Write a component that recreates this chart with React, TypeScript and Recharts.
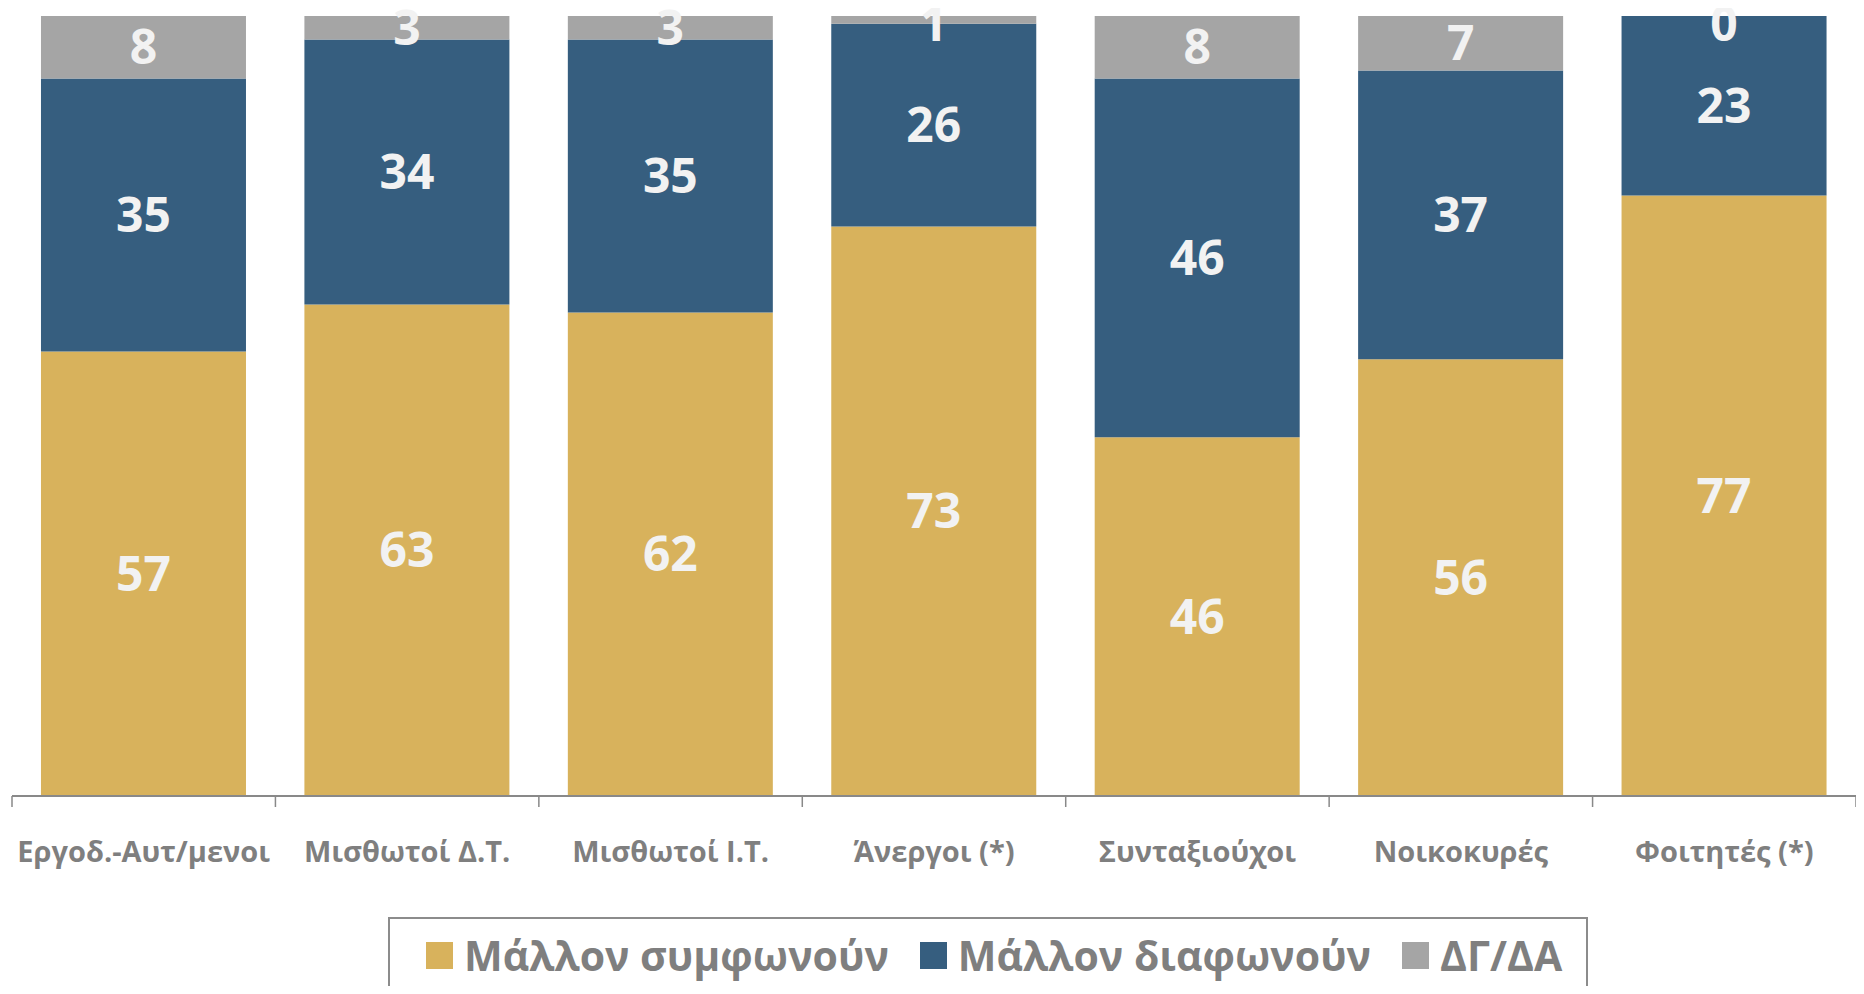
import { BarChart, Bar, XAxis, YAxis, Legend, LabelList } from "recharts";

const categories = [
  "Εργοδ.-Αυτ/μενοι",
  "Μισθωτοί Δ.Τ.",
  "Μισθωτοί Ι.Τ.",
  "Άνεργοι (*)",
  "Συνταξιούχοι",
  "Νοικοκυρές",
  "Φοιτητές (*)",
];
const agree = [57, 63, 62, 73, 46, 56, 77];
const disagree = [35, 34, 35, 26, 46, 37, 23];
const dkna = [8, 3, 3, 1, 8, 7, 0];

const seriesNames = ["Μάλλον συμφωνούν", "Μάλλον διαφωνούν", "ΔΓ/ΔΑ"];
const colors = ["#D8B25C", "#365E7F", "#A5A5A5"];

const data = categories.map((c, i) => ({
  name: c,
  agree: agree[i],
  disagree: disagree[i],
  dkna: dkna[i],
}));

const W = 1848;
const H = 978;
const margin = { top: 8, right: 0, bottom: 0, left: 4 };
const band = (W - margin.left - margin.right) / categories.length;
const font = "'Open Sans', 'DejaVu Sans', sans-serif";

function CatTick(props: any) {
  const { x, y, payload, index } = props;
  const last = index === categories.length - 1;
  return (
    <g>
      <line x1={x - band / 2} x2={x - band / 2} y1={y} y2={y + 11} stroke="#898989" strokeWidth={1.5} />
      {last && (
        <line x1={x + band / 2} x2={x + band / 2} y1={y} y2={y + 11} stroke="#898989" strokeWidth={1.5} />
      )}
      <text x={x} y={y + 66} textAnchor="middle" fill="#7F7F7F" fontSize={29} fontWeight={700} fontFamily={font}>
        {payload.value}
      </text>
    </g>
  );
}

// value label centred in its segment, but kept inside the plot at the top
function SegLabel(props: any) {
  const { viewBox, value } = props;
  if (!viewBox || value == null) return null;
  const cx = viewBox.x + viewBox.width / 2;
  const cy = Math.max(viewBox.y + viewBox.height / 2, 16);
  return (
    <text x={cx} y={cy} dy="0.355em" textAnchor="middle" fill="#F2F2F2" fontSize={48} fontWeight={700} fontFamily={font}>
      {value}
    </text>
  );
}

function LegendBox() {
  return (
    <div
      style={{
        boxSizing: "border-box",
        width: 1200,
        height: 76,
        border: "2px solid #8C8C8C",
        display: "flex",
        alignItems: "center",
        paddingLeft: 36,
        fontFamily: font,
        fontWeight: 700,
        fontSize: 41,
        color: "#7F7F7F",
        background: "#fff",
        overflow: "hidden",
      }}
    >
      {seriesNames.map((n, i) => (
        <div key={n} style={{ display: "flex", alignItems: "center", marginRight: 31, flexShrink: 0, whiteSpace: "nowrap" }}>
          <span style={{ width: 27, height: 27, background: colors[i], marginRight: 11, display: "inline-block" }} />
          <span style={{ lineHeight: "40px" }}>{n}</span>
        </div>
      ))}
    </div>
  );
}

export default function App() {
  return (
    <div style={{ width: W, height: H }}>
      <style>{`body{overflow:hidden}`}</style>
      <BarChart width={W} height={H} data={data} margin={margin} barCategoryGap="11%">
        <XAxis
          dataKey="name"
          axisLine={{ stroke: "#898989", strokeWidth: 2 }}
          tickLine={false}
          tickSize={0}
          tickMargin={0}
          height={114}
          interval={0}
          tick={<CatTick />}
        />
        <YAxis hide domain={[0, 100]} />
        <Legend
          verticalAlign="bottom"
          content={<LegendBox />}
          wrapperStyle={{ left: 380, top: 909, width: 1200 }}
        />
        <Bar dataKey="agree" stackId="a" fill={colors[0]} isAnimationActive={false}>
          <LabelList dataKey="agree" content={<SegLabel />} />
        </Bar>
        <Bar dataKey="disagree" stackId="a" fill={colors[1]} isAnimationActive={false}>
          <LabelList dataKey="disagree" content={<SegLabel />} />
        </Bar>
        <Bar dataKey="dkna" stackId="a" fill={colors[2]} minPointSize={0.01} isAnimationActive={false}>
          <LabelList dataKey="dkna" content={<SegLabel />} />
        </Bar>
      </BarChart>
    </div>
  );
}
